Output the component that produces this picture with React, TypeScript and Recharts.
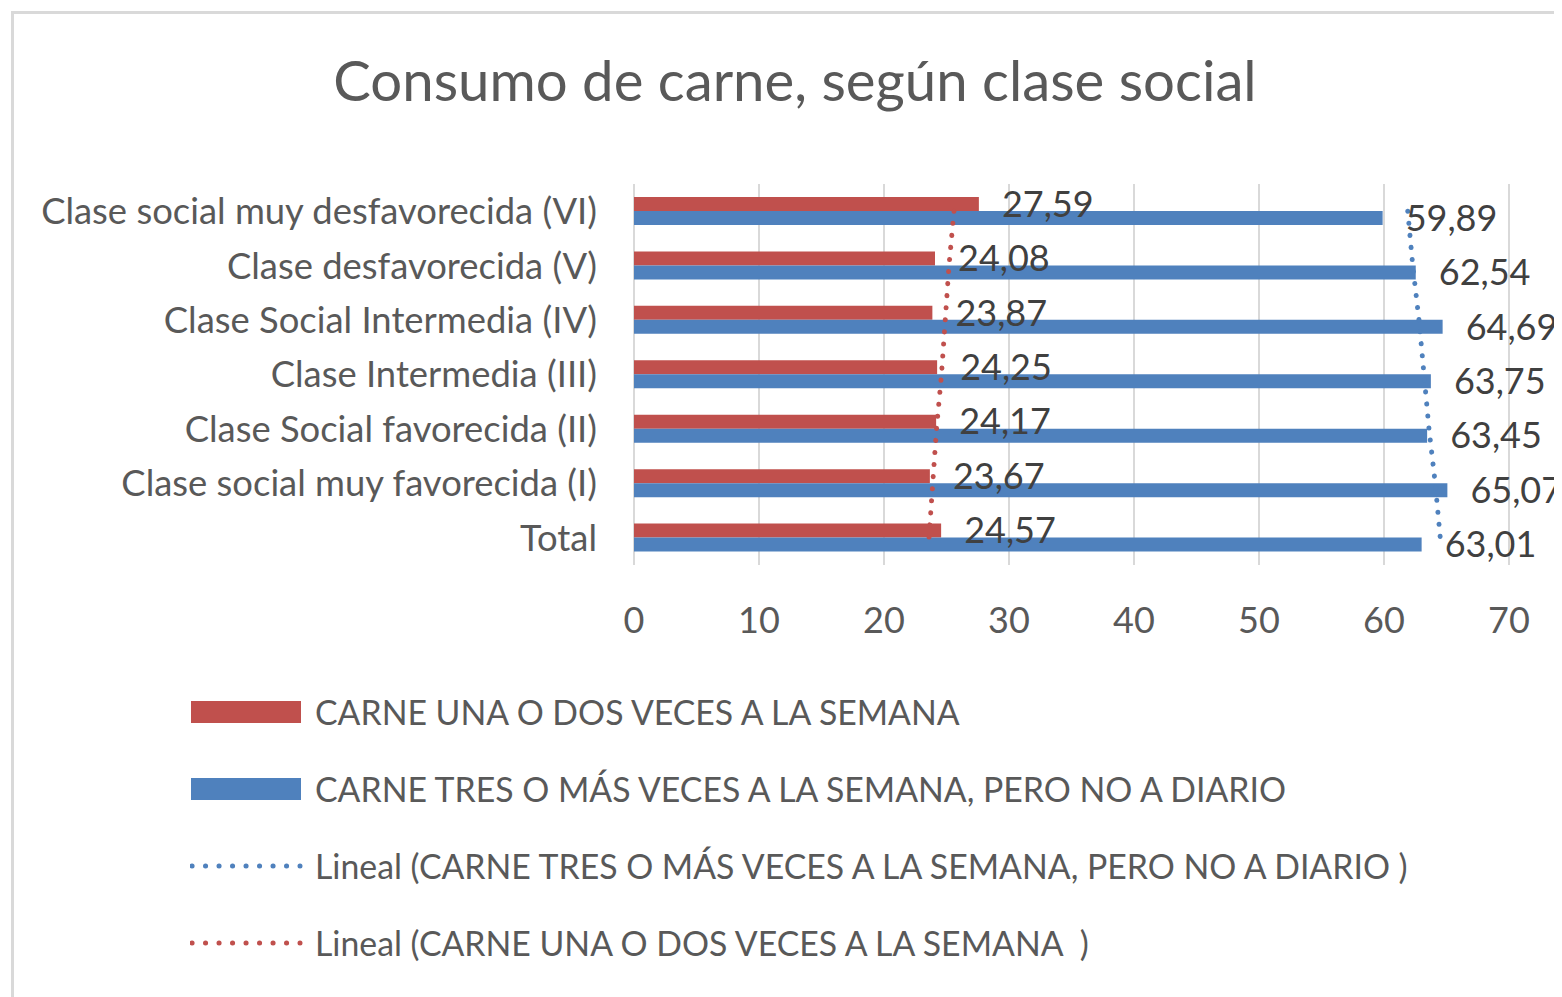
import {
  Bar,
  CartesianGrid,
  ComposedChart,
  LabelList,
  Line,
  XAxis,
  YAxis,
} from "recharts";

// categories top to bottom, as drawn
const categories = [
  "Clase social muy desfavorecida (VI)",
  "Clase desfavorecida (V)",
  "Clase Social Intermedia (IV)",
  "Clase Intermedia (III)",
  "Clase Social favorecida (II)",
  "Clase social muy favorecida (I)",
  "Total",
];
const unaODos = [27.59, 24.08, 23.87, 24.25, 24.17, 23.67, 24.57];
const tresOMas = [59.89, 62.54, 64.69, 63.75, 63.45, 65.07, 63.01];
// dotted trend lines at each category
const trendUnaODos = [25.6, 25.2, 24.9, 24.6, 24.2, 23.9, 23.6];
const trendTresOMas = [61.9, 62.3, 62.8, 63.2, 63.6, 64.1, 64.5];
const xTicks = [0, 10, 20, 30, 40, 50, 60, 70];

const legendItems = [
  { label: "CARNE UNA O DOS VECES A LA SEMANA", color: "#c0504d", dotted: false },
  { label: "CARNE TRES O MÁS VECES A LA SEMANA, PERO NO A DIARIO", color: "#4f81bd", dotted: false },
  { label: "Lineal (CARNE TRES O MÁS VECES A LA SEMANA, PERO NO A DIARIO )", color: "#4f81bd", dotted: true },
  { label: "Lineal (CARNE UNA O DOS VECES A LA SEMANA  )", color: "#c0504d", dotted: true },
];

const data = categories.map((name, i) => ({
  name,
  red: unaODos[i],
  blue: tresOMas[i],
  trendRed: trendUnaODos[i],
  trendBlue: trendTresOMas[i],
}));

const FONT = "Lato, 'Open Sans', sans-serif";
const fmt = (v: any) => Number(v).toFixed(2).replace(".", ",");

export default function App() {
  return (
    <div
      style={{
        position: "relative",
        width: 1554,
        height: 989,
        overflow: "hidden",
        background: "#fff",
        fontFamily: FONT,
      }}
    >
      <div
        style={{
          position: "absolute",
          left: 3,
          top: 3,
          width: 1700,
          height: 1200,
          borderLeft: "3px solid #d9d9d9",
          borderTop: "3px solid #d9d9d9",
        }}
      />
      <div
        style={{
          position: "absolute",
          left: 0,
          top: 41,
          width: 1574,
          textAlign: "center",
          fontSize: 56.3,
          color: "#595959",
          lineHeight: "60px",
        }}
      >
        Consumo de carne, según clase social
      </div>
      <div style={{ position: "absolute", left: 0, top: 0 }}>
        <ComposedChart
          width={1554}
          height={989}
          data={data}
          layout="vertical"
          barSize={14}
          barGap={0}
          margin={{ top: 176, right: 53, left: 0, bottom: 372 }}
        >
          <CartesianGrid horizontal={false} stroke="#d9d9d9" strokeWidth={2} />
          <XAxis
            type="number"
            domain={[0, 70]}
            ticks={xTicks}
            axisLine={false}
            tickLine={false}
            tickMargin={36}
            height={60}
            tick={{ fill: "#595959", fontSize: 36, fontFamily: FONT }}
            interval={0}
          />
          <YAxis
            type="category"
            dataKey="name"
            width={626}
            axisLine={false}
            tickLine={false}
            tickMargin={31}
            interval={0}
            tick={{ fill: "#595959", fontSize: 36.4, fontFamily: FONT }}
          />
          <Bar dataKey="red" fill="#c0504d" isAnimationActive={false}>
            <LabelList
              dataKey="red"
              position="right"
              offset={23}
              formatter={fmt}
              fill="#404040"
              fontSize={36}
              fontFamily={FONT}
            />
          </Bar>
          <Bar dataKey="blue" fill="#4f81bd" isAnimationActive={false}>
            <LabelList
              dataKey="blue"
              position="right"
              offset={23}
              formatter={fmt}
              fill="#404040"
              fontSize={36}
              fontFamily={FONT}
            />
          </Bar>
          <Line
            dataKey="trendRed"
            type="linear"
            stroke="#c0504d"
            strokeWidth={5}
            strokeLinecap="round"
            strokeDasharray="0.1 12"
            dot={false}
            activeDot={false}
            isAnimationActive={false}
          />
          <Line
            dataKey="trendBlue"
            type="linear"
            stroke="#4f81bd"
            strokeWidth={5}
            strokeLinecap="round"
            strokeDasharray="0.1 12"
            dot={false}
            activeDot={false}
            isAnimationActive={false}
          />
        </ComposedChart>
      </div>
      <div style={{ position: "absolute", left: 182, top: 665 }}>
        {legendItems.map((item) => (
          <div
            key={item.label}
            style={{ display: "flex", alignItems: "center", height: 77 }}
          >
            <svg width={125} height={30} style={{ flex: "none" }}>
              {item.dotted ? (
                <line
                  x1={2}
                  x2={110}
                  y1={15}
                  y2={15}
                  stroke={item.color}
                  strokeWidth={5}
                  strokeLinecap="round"
                  strokeDasharray="0.1 13.4"
                />
              ) : (
                <rect x={1} y={4} width={110} height={22} fill={item.color} />
              )}
            </svg>
            <span style={{ fontSize: 33.8, color: "#595959", whiteSpace: "pre" }}>
              {item.label}
            </span>
          </div>
        ))}
      </div>
    </div>
  );
}
